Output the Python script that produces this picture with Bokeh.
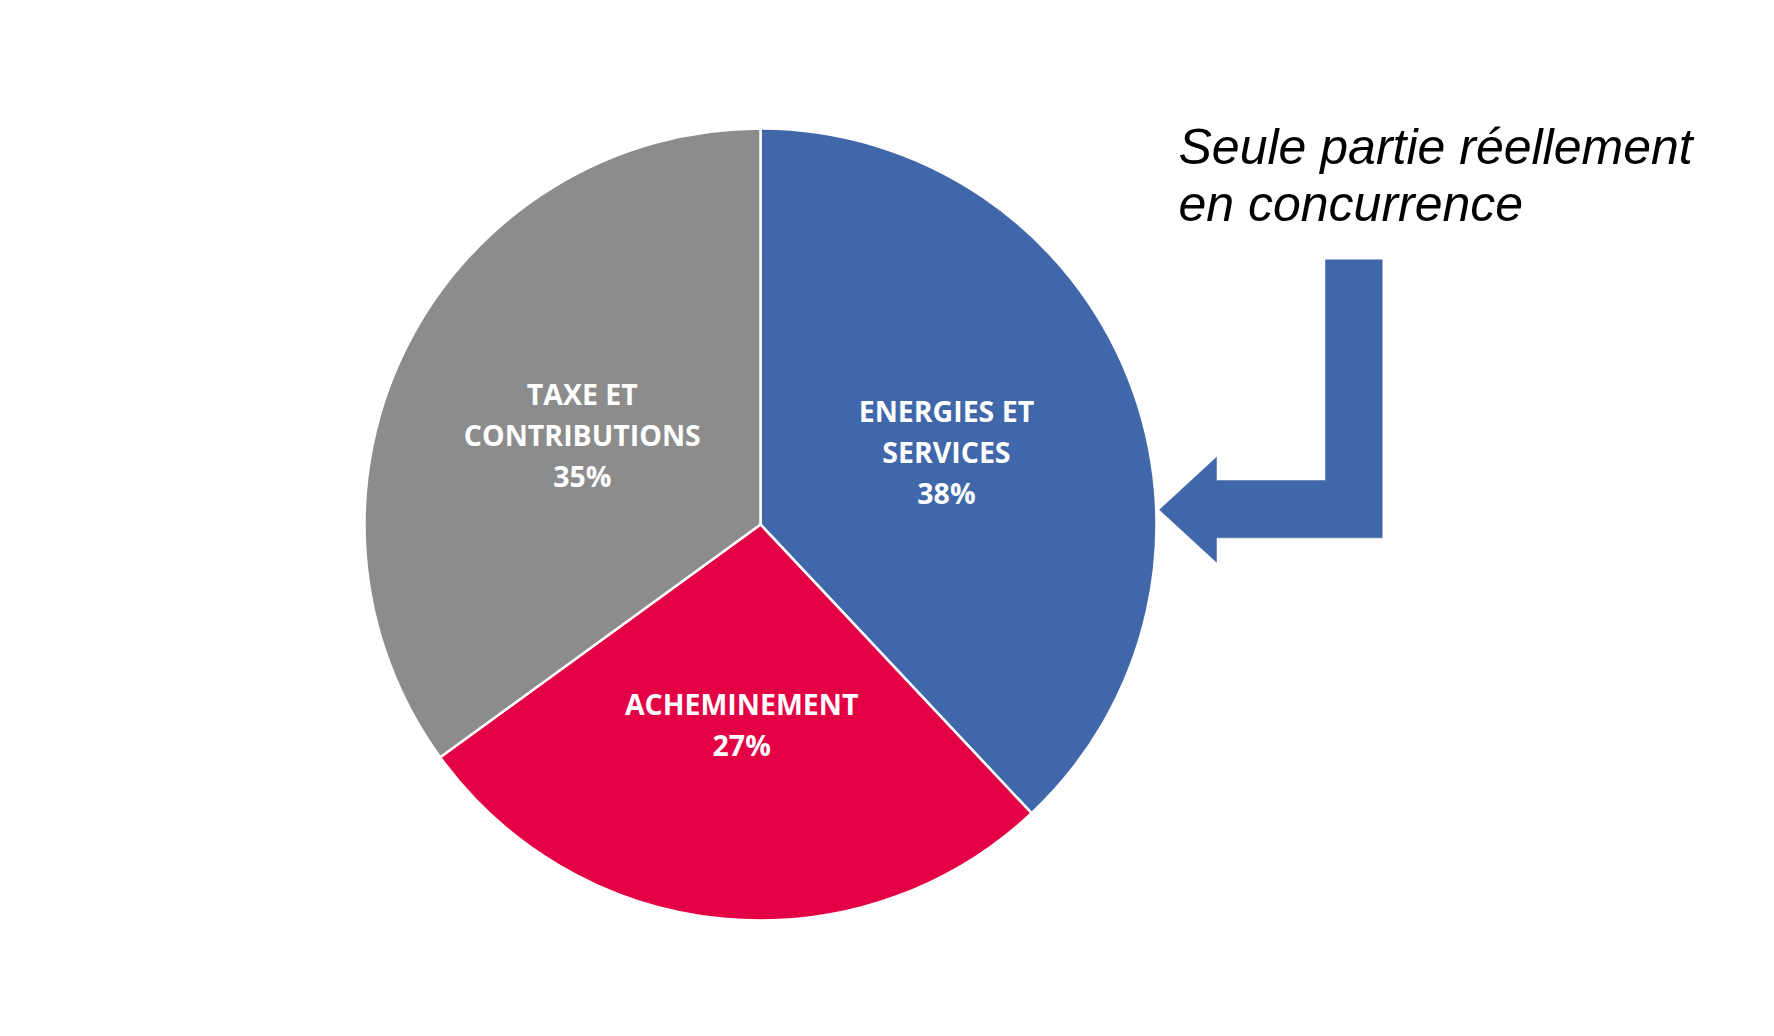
import math
from bokeh.plotting import figure
from bokeh.models import Range1d, ColumnDataSource
from bokeh.core.properties import value
from bokeh.embed import file_html
from bokeh.resources import INLINE

# ---- data ----
categories = ["ENERGIES ET SERVICES", "ACHEMINEMENT", "TAXE ET CONTRIBUTIONS"]
label_lines = [["ENERGIES ET", "SERVICES"], ["ACHEMINEMENT"], ["TAXE ET", "CONTRIBUTIONS"]]
shares = [38, 27, 35]
colors = ["#4067A9", "#E30045", "#8C8C8C"]
note_lines = ["Seule partie réellement", "en concurrence"]

# ---- layout (picture pixel coordinates) ----
W, H = 1758, 1020
def X(px):
    return px
def Y(py):
    return H - py

cx_img, cy_img, R = 760, 524, 396
cx, cy = X(cx_img), Y(cy_img)

p = figure(width=W, height=H, x_range=Range1d(0, W), y_range=Range1d(0, H),
           output_backend="svg", toolbar_location=None,
           x_axis_type=None, y_axis_type=None, min_border=0)
p.outline_line_color = None
p.grid.visible = False
p.background_fill_color = "white"

total = float(sum(shares))
cum = [0.0]
for s in shares:
    cum.append(cum[-1] + s / total)
starts = [math.pi / 2 - cum[i + 1] * 2 * math.pi for i in range(len(shares))]
ends = [math.pi / 2 - cum[i] * 2 * math.pi for i in range(len(shares))]

src = ColumnDataSource(dict(x=[cx] * len(shares), y=[cy] * len(shares),
                            start=starts, end=ends, color=colors, cat=categories))
p.wedge(x="x", y="y", radius=R, start_angle="start", end_angle="end",
        fill_color="color", line_color="white", line_width=2.5, source=src)

# slice labels
tx, ty, tt = [], [], []
LS = 41
for i, s in enumerate(shares):
    mid = (cum[i] + cum[i + 1]) / 2 * 2 * math.pi
    ax = cx_img + 0.505 * R * math.sin(mid)
    ay = cy_img - 0.505 * R * math.cos(mid)
    lines = label_lines[i] + [f"{s}%"]
    n = len(lines)
    for j, ln in enumerate(lines):
        yc = ay + (j - (n - 1) / 2) * LS
        tx.append(X(ax))
        ty.append(Y(yc + 0.8))
        tt.append(ln)
p.text(x=tx, y=ty, text=tt, text_color="white", text_font=value("Open Sans"),
       text_font_style="bold", text_font_size="28.5px", text_align="center",
       text_baseline="alphabetic")

# annotation text
p.text(x=[X(1178)] * 2, y=[Y(146), Y(203.5)], text=note_lines, text_color="black",
       text_font=value("Liberation Sans"), text_font_style="italic",
       text_font_size="50px", text_align="left", text_baseline="alphabetic")

# bent arrow shape (decoration)
arrow_px = [1381.7, 1325, 1325, 1216, 1216, 1159, 1216, 1216, 1381.7]
arrow_py = [259.3, 259.3, 480, 480, 456.7, 509.3, 561.7, 537.3, 537.3]
p.patch([X(v) for v in arrow_px], [Y(v) for v in arrow_py],
        fill_color=colors[0], line_color=colors[0], line_width=0.5)

open("out.html", "w").write(file_html(p, INLINE))
